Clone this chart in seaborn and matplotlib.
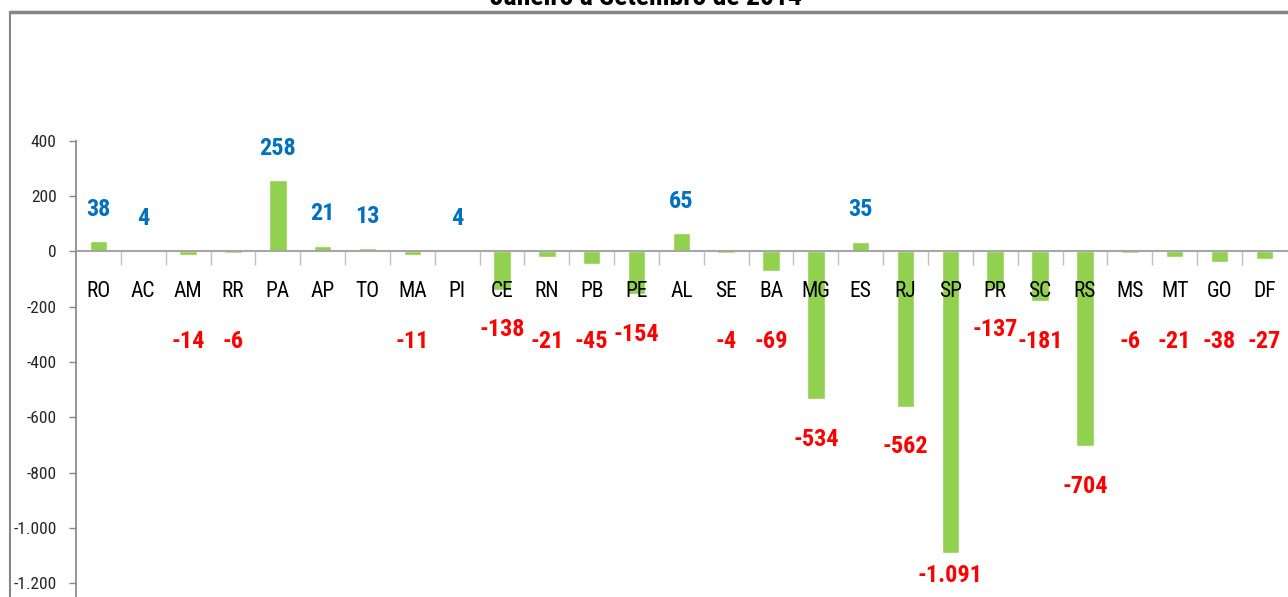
import matplotlib.pyplot as plt
import seaborn as sns
from matplotlib.patches import Rectangle
from matplotlib.ticker import FixedLocator, FuncFormatter

plt.switch_backend("Agg")

# Saldo por UF, janeiro a setembro de 2014
states = ["RO", "AC", "AM", "RR", "PA", "AP", "TO", "MA", "PI", "CE", "RN", "PB", "PE", "AL",
          "SE", "BA", "MG", "ES", "RJ", "SP", "PR", "SC", "RS", "MS", "MT", "GO", "DF"]
values = [38, 4, -14, -6, 258, 21, 13, -11, 4, -138, -21, -45, -154, 65,
          -4, -69, -534, 35, -562, -1091, -137, -181, -704, -6, -21, -38, -27]
y_ticks = [400, 200, 0, -200, -400, -600, -800, -1000, -1200]

GREEN = "#92D050"
BLUE = "#0070C0"
RED = "#FF0000"
GRAY = "#868686"


def br(v):
    return f"{int(v):,}".replace(",", ".")


sns.set_theme(style="white")
plt.rcParams["font.family"] = ["Roboto Condensed", "Roboto", "DejaVu Sans"]

fig = plt.figure(figsize=(12.88, 5.97), dpi=100)
ax = fig.add_axes([0.059, 0.0, 0.940, 0.764])

sns.barplot(x=states, y=values, color=GREEN, saturation=1, width=0.39, ax=ax)

ax.set_xlim(-0.5, len(states) - 0.5)
ax.set_ylim(-1250, 400)
ax.set_axisbelow(False)

# y axis in Brazilian number format
ax.yaxis.set_major_locator(FixedLocator(y_ticks))
ax.yaxis.set_major_formatter(FuncFormatter(lambda v, _: br(v)))
ax.tick_params(axis="y", direction="out", length=5, width=1, color=GRAY, labelsize=12.5,
               labelcolor="#262626", pad=9, left=True)

# category axis sits on zero, with tick marks between categories
ax.spines["bottom"].set_position(("data", 0))
ax.spines["bottom"].set_color("#A6A6A6")
ax.spines["bottom"].set_linewidth(1.5)
ax.set_xticks([i + 0.5 for i in range(len(states) - 1)], minor=True)
ax.tick_params(axis="x", which="major", length=0, labelsize=15.5, labelcolor="black", pad=21)
ax.tick_params(axis="x", which="minor", direction="out", length=10, width=1, color="#BFBFBF",
               bottom=True)
ax.spines["left"].set_color(GRAY)
for side in ("top", "right"):
    ax.spines[side].set_visible(False)
ax.set_xlabel("")
ax.set_ylabel("")

for i, v in enumerate(values):
    if v >= 0:
        ax.text(i, v + 115, br(v), ha="center", va="center", color=BLUE,
                fontsize=17.5, fontweight="bold")
    else:
        # small bars get their label pushed below the category names
        y = v - 145 if v < -100 else -325
        y = max(y, -1172)
        ax.text(i, y, br(v), ha="center", va="center", color=RED,
                fontsize=17.5, fontweight="bold")

# chart frame and cropped title
fig.add_artist(Rectangle((10 / 1288, -0.01), 1.0, 1 - 12 / 597 + 0.01, transform=fig.transFigure,
                         fill=False, edgecolor=GRAY, linewidth=1.5))
fig.add_artist(plt.Line2D([10 / 1288, 1.0], [1 - 12 / 597] * 2, transform=fig.transFigure,
                          color=GRAY, linewidth=2.5))
fig.text(646 / 1288, 1 - 5 / 597, "Janeiro a Setembro de 2014", ha="center", va="baseline",
         fontsize=20, fontweight="bold", color="black")

fig.savefig("out.png", dpi=100)
plt.close(fig)
